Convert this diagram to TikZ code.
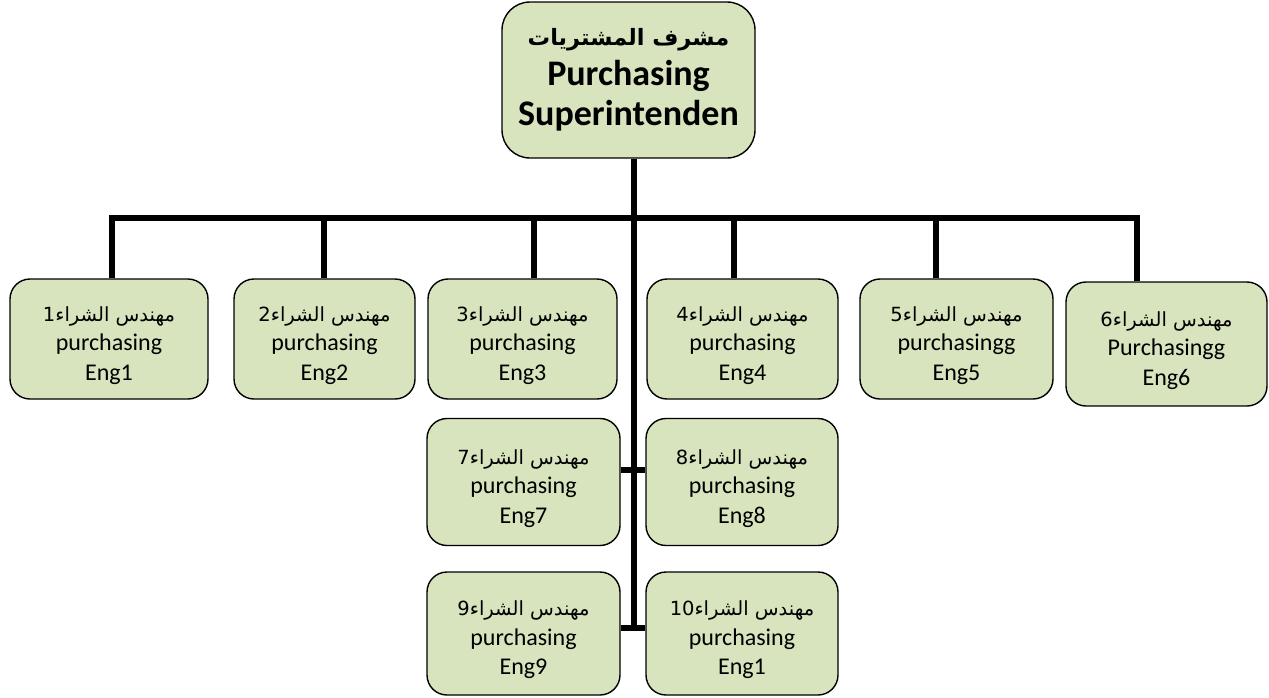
\documentclass[tikz,border=0pt]{standalone}
\usepackage{fontspec}
\setmainfont{Carlito}
\newfontfamily\arabicfont[Script=Arabic]{DejaVu Sans}
\TeXXeTstate=1
\definecolor{boxfill}{HTML}{D7E4BD}
% Arabic title line of an engineer box (the strut lowers the text block a little)
\newcommand\arline[1]{\rule{0pt}{28pt}{\arabicfont\fontsize{19.5}{29.5}\selectfont\beginR #1\endR}}
\begin{document}
\begin{tikzpicture}[x=1pt,y=-1pt,
  box/.style={draw=black, line width=1.4pt, fill=boxfill, rounded corners=20pt,
    inner sep=0pt, align=center, font=\fontsize{24}{29.5}\selectfont},
  topbox/.style={box, rounded corners=28pt, font=\bfseries\fontsize{36}{40}\selectfont},
  link/.style={line width=5.5pt, line join=miter}]
\useasboundingbox (0,0) rectangle (1269,697);

% head of the department
\node[topbox, minimum width=253, minimum height=156] (top) at (628.5,80)
  {{\arabicfont\fontsize{22.5}{40}\selectfont\beginR مشرف المشتريات\endR}\\Purchasing\\Superintenden};

% first row of engineers
\node[box, minimum width=198, minimum height=120] (e1) at (109,339)
  {\arline{مهندس الشراء1}\\purchasing\\Eng1};
\node[box, minimum width=181, minimum height=120] (e2) at (324.5,339)
  {\arline{مهندس الشراء2}\\purchasing\\Eng2};
\node[box, minimum width=189, minimum height=120] (e3) at (522.5,339)
  {\arline{مهندس الشراء3}\\purchasing\\Eng3};
\node[box, minimum width=191, minimum height=120] (e4) at (742.5,339)
  {\arline{مهندس الشراء4}\\purchasing\\Eng4};
\node[box, minimum width=193, minimum height=120] (e5) at (956.5,339)
  {\arline{مهندس الشراء5}\\purchasingg\\Eng5};
\node[box, minimum width=201, minimum height=124] (e6) at (1166.5,344)
  {\arline{مهندس الشراء6}\\Purchasingg\\Eng6};

% engineers hanging from the central stem
\node[box, minimum width=193, minimum height=127] (e7) at (523.5,482)
  {\arline{مهندس الشراء7}\\purchasing\\Eng7};
\node[box, minimum width=192, minimum height=127] (e8) at (742,482)
  {\arline{مهندس الشراء8}\\purchasing\\Eng8};
\node[box, minimum width=193, minimum height=123] (e9) at (523.5,633.5)
  {\arline{مهندس الشراء9}\\purchasing\\Eng9};
\node[box, minimum width=192, minimum height=123] (e10) at (742,633.5)
  {\arline{مهندس الشراء\beginL 10\endL}\\purchasing\\Eng1};

% bus bar and drops
\coordinate (b1) at (112,218);
\coordinate (b2) at (324,218);
\coordinate (b3) at (534,218);
\coordinate (b4) at (734,218);
\coordinate (b5) at (936,218);
\coordinate (b6) at (1137,218);
\coordinate (stem) at (634,631);
\coordinate (s1) at (634,470);
\coordinate (s2) at (634,628);

\draw[link] (b1 |- e1.north) -- (b1) -- (b6) -- (b6 |- e6.north);
\draw[link] (b2) -- (b2 |- e2.north);
\draw[link] (b3) -- (b3 |- e3.north);
\draw[link] (b4) -- (b4 |- e4.north);
\draw[link] (b5) -- (b5 |- e5.north);

% central stem with side branches
\draw[link] (top.south -| stem) -- (stem);
\draw[link] (s1 -| e7.east) -- (s1 -| e8.west);
\draw[link] (s2 -| e9.east) -- (s2 -| e10.west);
\end{tikzpicture}
\end{document}
